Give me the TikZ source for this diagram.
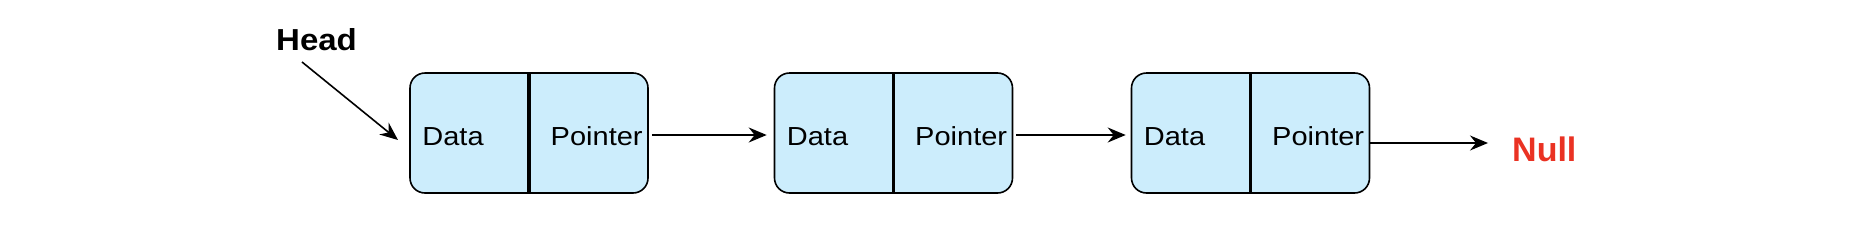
\documentclass[tikz,border=0pt]{standalone}
\usepackage{fontspec}
\setmainfont{Liberation Sans}
\usetikzlibrary{arrows.meta}
\definecolor{boxfill}{RGB}{204,237,252}
\definecolor{nullred}{RGB}{234,50,35}
\tikzset{
  listbox/.style={draw=black, line width=1.6pt, fill=boxfill, rounded corners=15pt,
    minimum width=238pt, minimum height=120pt, inner sep=0pt},
  divider/.style={line width=3.2pt},
  lbl/.style={inner sep=0pt, font=\fontsize{29}{32}\selectfont},
  link/.style={line width=1.6pt, -{Stealth[length=18pt, width=15pt, inset=6pt]}},
}
\begin{document}
\begin{tikzpicture}[x=1pt, y=-1pt]
\useasboundingbox (0,0) rectangle (1862,236);
\foreach \n/\cx in {1/529, 2/893.5, 3/1250.5}{
  \node[listbox] (b\n) at (\cx,133) {};
  \draw[divider] (b\n.north) -- (b\n.south);
  \node[lbl, anchor=base west] (d\n) at ([xshift=13pt, yshift=-12pt]b\n.west) {\scalebox{1}[0.9]{Data}};
  \node[lbl, anchor=base east] (p\n) at ([xshift=-6pt, yshift=-12pt]b\n.east) {\scalebox{1}[0.9]{Pointer}};
}
\node[anchor=base west, inner sep=0pt, font=\bfseries\fontsize{33}{36}\selectfont] (head) at (276,50) {\scalebox{1}[0.92]{Head}};
\node[anchor=base west, inner sep=0pt, text=nullred, font=\bfseries\fontsize{34}{36}\selectfont] (null) at (1512,161) {Null};
\coordinate (hs) at (302,62);
\coordinate (ht) at (398,140);
\draw[link] (hs) -- (ht);
\draw[link, shorten <=3pt, shorten >=7pt] ([yshift=-2pt]b1.east) -- ([yshift=-2pt]b2.west);
\draw[link, shorten <=3pt, shorten >=5pt] ([yshift=-2pt]b2.east) -- ([yshift=-2pt]b3.west);
\coordinate (nt) at (1488,143);
\draw[link] (b3.east |- nt) -- (nt);
\end{tikzpicture}
\end{document}
